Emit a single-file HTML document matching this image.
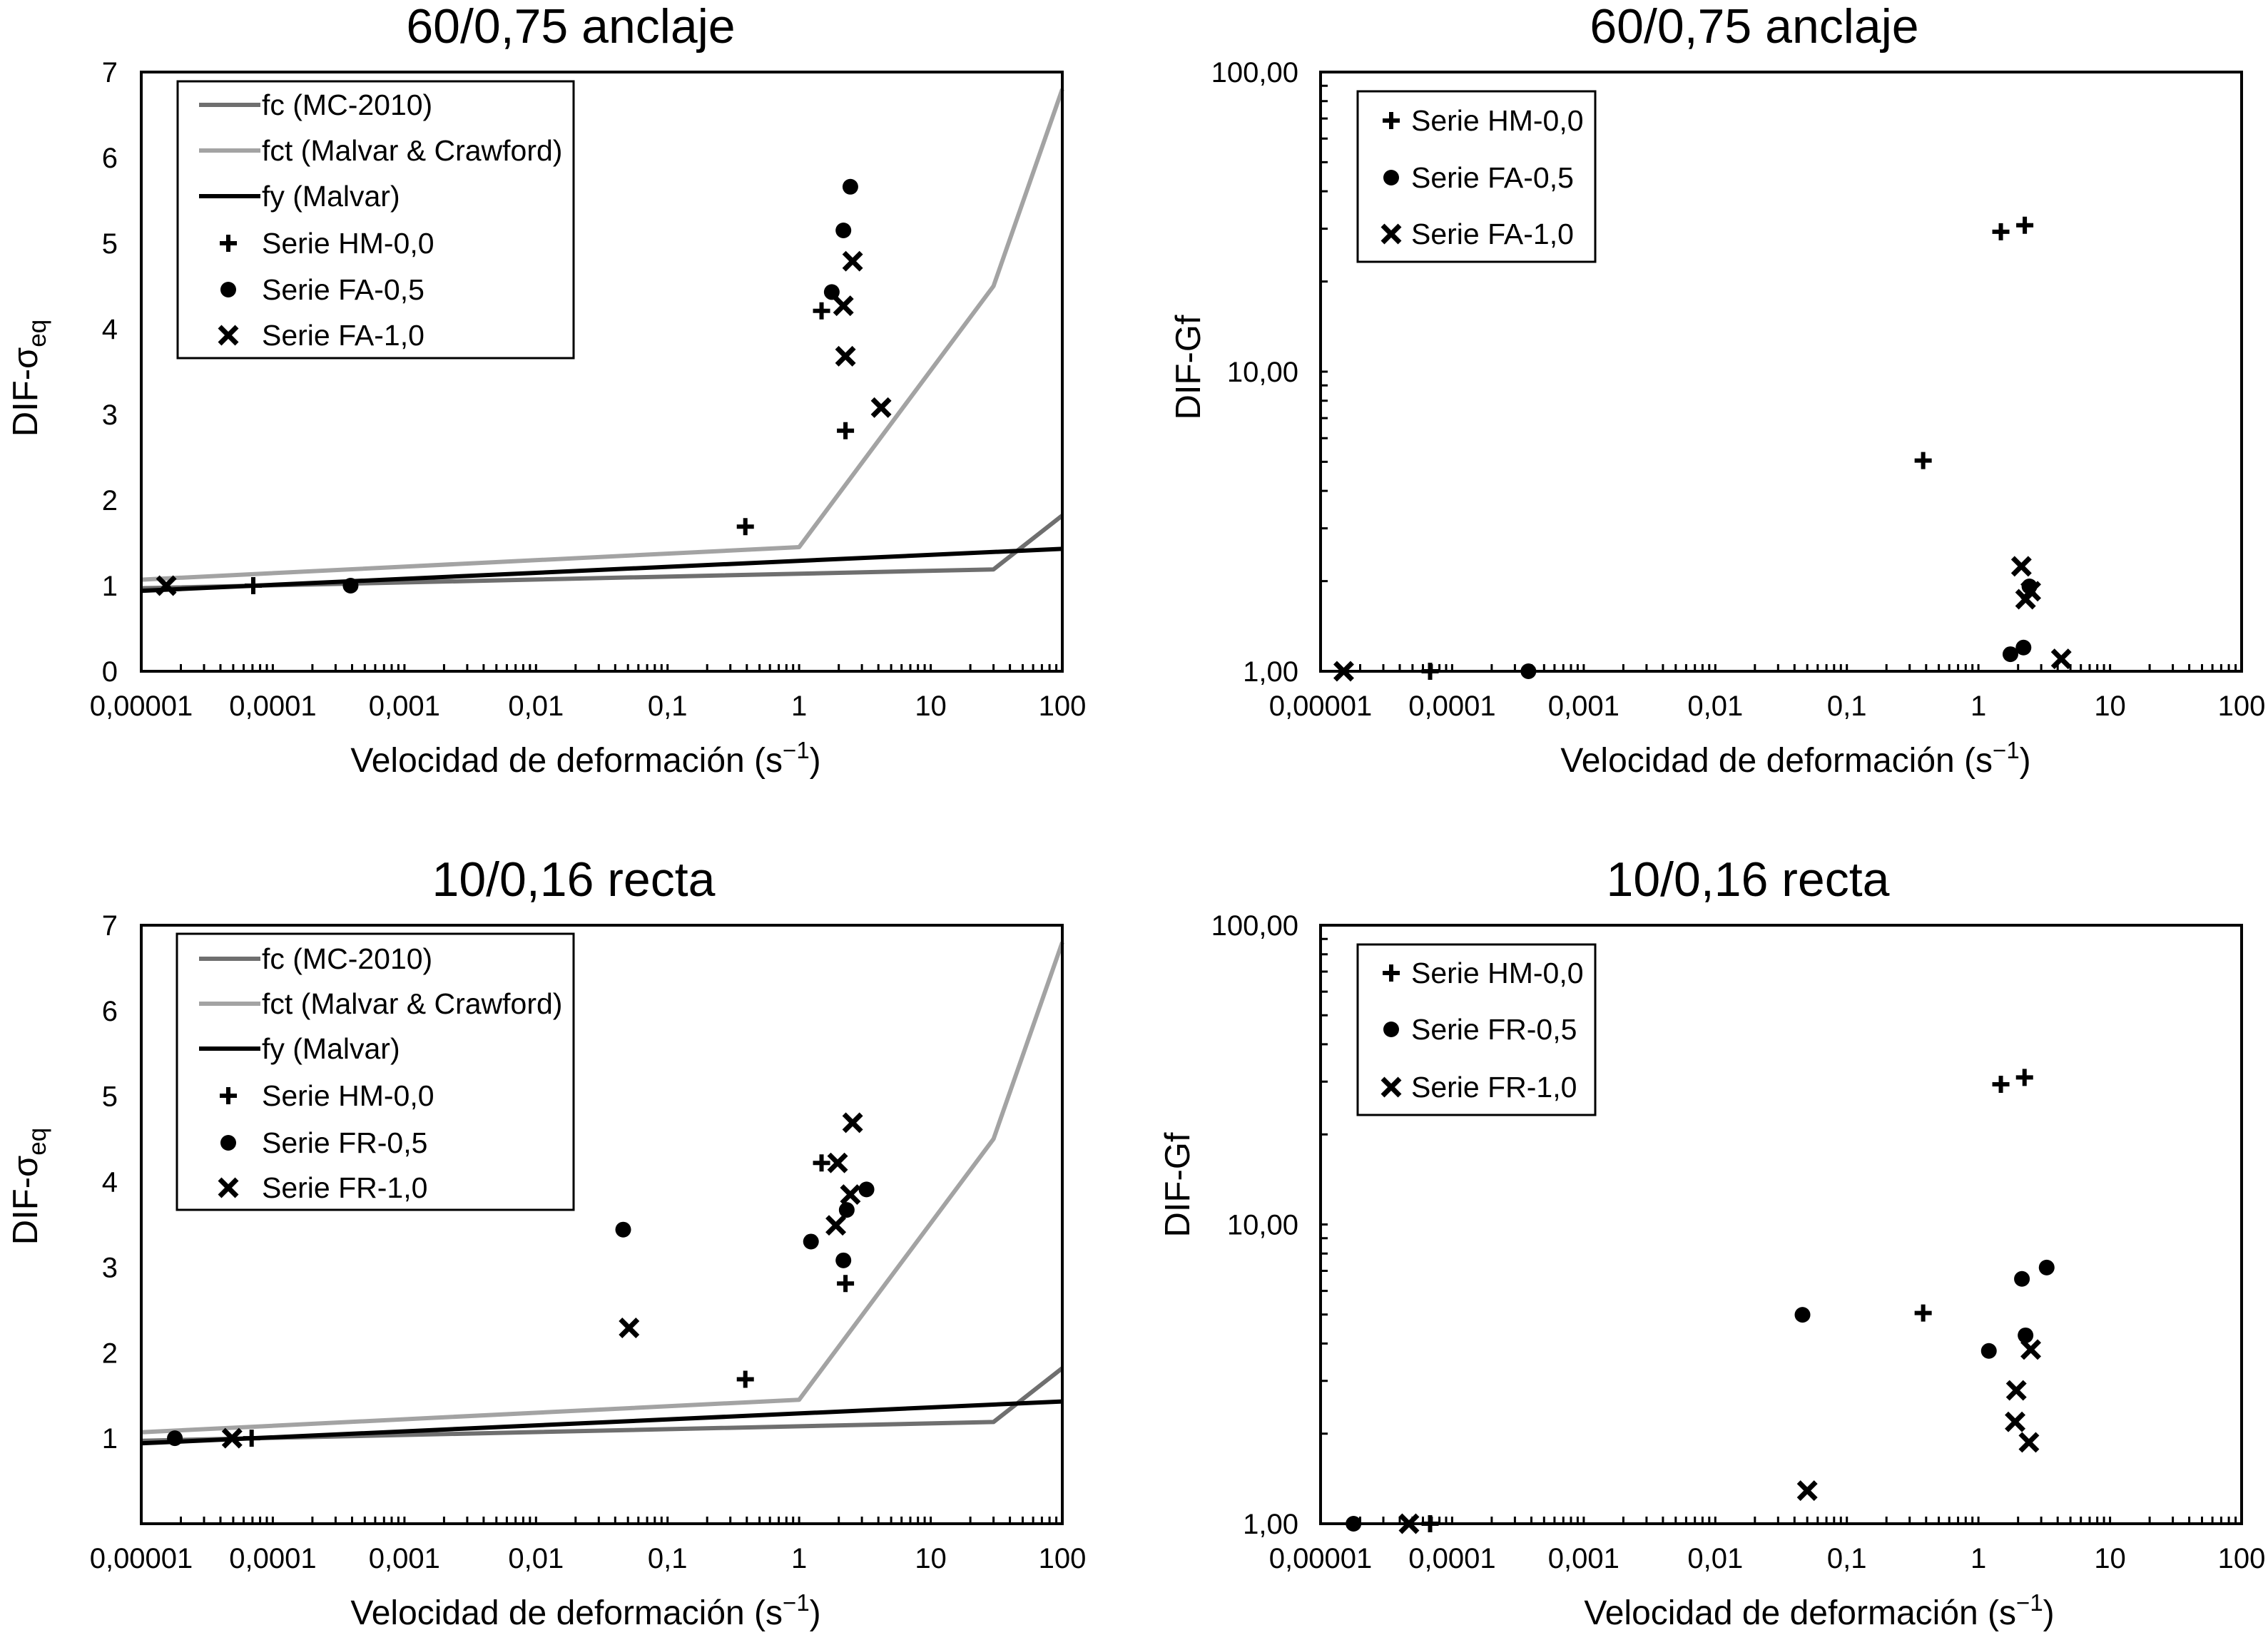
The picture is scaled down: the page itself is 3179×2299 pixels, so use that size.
<!DOCTYPE html>
<html><head><meta charset="utf-8"><style>
html,body{margin:0;padding:0;background:#fff;}
svg{display:block;font-family:"Liberation Sans",Arial,sans-serif;}
</style></head><body>
<svg id="fig" width="3179" height="2299" viewBox="0 0 3179 2299" xmlns="http://www.w3.org/2000/svg"></svg>
<script>
// ---- data ----
const tickDecades = ["0,00001","0,0001","0,001","0,01","0,1","1","10","100"];
const linTicks = ["0","1","2","3","4","5","6","7"];
const logTicks = ["1,00","10,00","100,00"];

// model curves (same on both left panels)
const fcX = [1e-5, 30, 100];
const fcY = [0.97, 1.19, 1.82];
const fctX = [1e-5, 1, 30, 100];
const fctY = [1.07, 1.45, 4.5, 6.8];
const fyX = [1e-5, 100];
const fyY = [0.94, 1.43];

// top-left: DIF-sigma, 60/0,75 anclaje
const tlHMx = [0.39, 1.48, 2.25, 7.1e-5];
const tlHMy = [1.69, 4.21, 2.81, 1.0];
const tlFA05x = [2.45, 2.17, 1.77, 3.9e-4];
const tlFA05y = [5.66, 5.15, 4.43, 1.0];
const tlFA10x = [2.55, 2.17, 2.25, 4.2, 1.55e-5];
const tlFA10y = [4.79, 4.27, 3.68, 3.08, 1.0];

// top-right: DIF-Gf, 60/0,75 anclaje
const trHMx = [1.48, 2.25, 0.38, 6.8e-5];
const trHMy = [29.3, 30.8, 5.05, 1.0];
const trFA05x = [1.75, 2.2, 2.44, 3.8e-4];
const trFA05y = [1.14, 1.2, 1.92, 1.0];
const trFA10x = [2.12, 2.28, 2.5, 4.26, 1.5e-5];
const trFA10y = [2.24, 1.74, 1.85, 1.1, 1.0];

// bottom-left: DIF-sigma, 10/0,16 recta
const blHMx = [0.39, 1.48, 2.25, 6.9e-5];
const blHMy = [1.69, 4.22, 2.81, 1.0];
const blFR05x = [0.046, 1.23, 2.17, 2.3, 3.25, 1.8e-5];
const blFR05y = [3.44, 3.30, 3.08, 3.67, 3.91, 1.0];
const blFR10x = [0.051, 2.55, 1.96, 2.45, 1.9, 4.9e-5];
const blFR10y = [2.29, 4.69, 4.22, 3.85, 3.49, 1.0];

// bottom-right: DIF-Gf, 10/0,16 recta
const brHMx = [1.48, 2.24, 0.38, 6.8e-5];
const brHMy = [29.4, 31.0, 5.06, 1.0];
const brFR05x = [0.046, 1.2, 2.14, 3.3, 2.28, 1.78e-5];
const brFR05y = [4.99, 3.78, 6.58, 7.18, 4.26, 1.0];
const brFR10x = [2.5, 1.94, 1.9, 2.42, 0.05, 4.7e-5];
const brFR10y = [3.82, 2.79, 2.19, 1.87, 1.29, 1.0];

// ---- drawing ----
const NS = "http://www.w3.org/2000/svg";
const svg = document.getElementById("fig");
function mk(tag, attrs, parent) {
  const e = document.createElementNS(NS, tag);
  for (const k in attrs) e.setAttribute(k, attrs[k]);
  (parent || svg).appendChild(e);
  return e;
}
function txt(str, attrs, parent) { const t = mk("text", attrs, parent); t.textContent = str; return t; }

function markPlus(g, cx, cy, name) {
  const p = mk("path", {d:`M${cx-12},${cy}H${cx+12}M${cx},${cy-12}V${cy+12}`, stroke:"#000", "stroke-width":6, fill:"none"}, g);
  
  
}
function markDot(g, cx, cy, name) {
  const c = mk("circle", {cx:cx, cy:cy, r:11, fill:"#000"}, g);
  
  
}
function markCross(g, cx, cy, name) {
  const p = mk("path", {d:`M${cx-12},${cy-12}L${cx+12},${cy+12}M${cx+12},${cy-12}L${cx-12},${cy+12}`, stroke:"#000", "stroke-width":7, fill:"none"}, g);
  
  
}
const markers = {plus: markPlus, dot: markDot, cross: markCross};

function panel(cfg) {
  const g = mk("g", {});
  
  
  const {x0, x1, y0, y1} = cfg;
  const X = v => x0 + (Math.log10(v) + 5) / 7 * (x1 - x0);
  const Y = cfg.log ? (v => y1 - Math.log10(v) / 2 * (y1 - y0)) : (v => y1 - v / 7 * (y1 - y0));

  const t = txt(cfg.title, {x: cfg.titleX, y: y0 - 41, "text-anchor": "middle", "font-size": 68, fill: "#000"}, g);
  
  

  let d = "";
  for (let dec = 0; dec < 7; dec++) {
    for (let m = 1; m <= 9; m++) {
      const xv = x0 + (dec + Math.log10(m)) / 7 * (x1 - x0);
      d += `M${xv.toFixed(1)},${y1}V${y1 - 10}`;
    }
  }
  if (cfg.log) {
    for (let dec = 0; dec < 2; dec++) for (let m = 1; m <= 9; m++) {
      const yv = y1 - (dec + Math.log10(m)) / 2 * (y1 - y0);
      d += `M${x0},${yv.toFixed(1)}H${x0 + 10}`;
    }
  }
  const ticks = mk("path", {d: d, stroke: "#000", "stroke-width": 3, fill: "none"}, g);
  
  

  tickDecades.forEach((lab, i) => {
    const xv = x0 + i / 7 * (x1 - x0);
    const e = txt(lab, {x: xv, y: y1 + 62, "text-anchor": "middle", "font-size": 40}, g);
    
    
  });
  if (cfg.log) {
    logTicks.forEach((lab, i) => {
      const e = txt(lab, {x: x0 - 31, y: y1 - i / 2 * (y1 - y0) + 14, "text-anchor": "end", "font-size": 40}, g);
      
      
    });
  } else {
    linTicks.forEach((lab, i) => {
      if (i === 0 && cfg.noZero) return;
      const e = txt(lab, {x: x0 - 33, y: Y(+lab) + 14, "text-anchor": "end", "font-size": 40}, g);
      
      
    });
  }

  const xt = txt("", {x: cfg.xTitleX, y: y1 + 141, "text-anchor": "middle", "font-size": 48}, g);
  
  
  xt.appendChild(document.createTextNode("Velocidad de deformación (s"));
  const sup = mk("tspan", {"font-size": 33, dy: -19}, xt); sup.textContent = "\u22121";
  const cl = mk("tspan", {dy: 19}, xt); cl.textContent = ")";

  const yt = txt("", {x: 0, y: 0, "text-anchor": "middle", "font-size": 49,
    transform: `translate(${cfg.yTitleX},${cfg.yTitleY}) rotate(-90)`}, g);
  
  
  if (cfg.log) { yt.textContent = "DIF-Gf"; }
  else {
    yt.appendChild(document.createTextNode("DIF-\u03c3"));
    const sb = mk("tspan", {"font-size": 35, dy: 12}, yt); sb.textContent = "eq";
  }

  if (cfg.curves) {
    cfg.curves.forEach(c => {
      const pts = c.xs.map((xv, i) => `${X(xv).toFixed(1)},${Y(c.ys[i]).toFixed(1)}`).join(" ");
      const pl = mk("polyline", {points: pts, fill: "none", stroke: c.color, "stroke-width": 6, "stroke-linejoin": "round"}, g);
      
      
    });
  }
  cfg.series.forEach(s => {
    s.xs.forEach((xv, i) => markers[s.marker](g, X(xv), Y(s.ys[i]), s.name + '-point'));
  });

  const fr = mk("rect", {x: x0, y: y0, width: x1 - x0, height: y1 - y0, fill: "none", stroke: "#000", "stroke-width": 4}, g);
  
  

  const L = cfg.legend;
  const lg = mk("g", {}, g);
  
  
  const lb = mk("rect", {x: L.x, y: L.y, width: L.w, height: L.h, fill: "#fff", stroke: "#000", "stroke-width": 3}, lg);
  
  
  L.items.forEach((it, i) => {
    const ry = L.rows[i];
    if (it.color) {
      const ln = mk("line", {x1: L.lineX0, x2: L.lineX1, y1: ry, y2: ry, stroke: it.color, "stroke-width": 6}, lg);
      
      
    } else {
      markers[it.marker](lg, L.markX, ry, 'legend-marker');
    }
    const e = txt(it.label, {x: L.textX, y: ry + 14, "font-size": 41}, lg);
    
    
  });
}

const curvesDef = [
  {name: "fc-line", xs: fcX, ys: fcY, color: "#6f6f6f"},
  {name: "fct-line", xs: fctX, ys: fctY, color: "#a3a3a3"},
  {name: "fy-line", xs: fyX, ys: fyY, color: "#000"}
];
function leftLegendItems(a, b) {
  return [
    {label: "fc (MC-2010)", color: "#6f6f6f"},
    {label: "fct (Malvar & Crawford)", color: "#a3a3a3"},
    {label: "fy (Malvar)", color: "#000"},
    {label: "Serie HM-0,0", marker: "plus"},
    {label: a, marker: "dot"},
    {label: b, marker: "cross"}
  ];
}

panel({name: "panel-top-left", title: "60/0,75 anclaje", titleX: 800, x0: 198, x1: 1489, y0: 101, y1: 941, log: false,
  xTitleX: 821, yTitleX: 52, yTitleY: 530, curves: curvesDef,
  series: [{name: "serie-hm-0-0", xs: tlHMx, ys: tlHMy, marker: "plus"},
           {name: "serie-fa-0-5", xs: tlFA05x, ys: tlFA05y, marker: "dot"},
           {name: "serie-fa-1-0", xs: tlFA10x, ys: tlFA10y, marker: "cross"}],
  legend: {x: 249, y: 114, w: 555, h: 388, rows: [147, 211, 275, 341, 406, 470], lineX0: 279, lineX1: 365, markX: 320, textX: 367,
    items: leftLegendItems("Serie FA-0,5", "Serie FA-1,0")}});

panel({name: "panel-top-right", title: "60/0,75 anclaje", titleX: 2459, x0: 1851, x1: 3142, y0: 101, y1: 941, log: true,
  xTitleX: 2517, yTitleX: 1682, yTitleY: 515,
  series: [{name: "serie-hm-0-0", xs: trHMx, ys: trHMy, marker: "plus"},
           {name: "serie-fa-0-5", xs: trFA05x, ys: trFA05y, marker: "dot"},
           {name: "serie-fa-1-0", xs: trFA10x, ys: trFA10y, marker: "cross"}],
  legend: {x: 1903, y: 128, w: 333, h: 239, rows: [169, 249, 328], markX: 1950, textX: 1978,
    items: [{label: "Serie HM-0,0", marker: "plus"}, {label: "Serie FA-0,5", marker: "dot"}, {label: "Serie FA-1,0", marker: "cross"}]}});

panel({name: "panel-bottom-left", title: "10/0,16 recta", titleX: 804, x0: 198, x1: 1489, y0: 1297, y1: 2136, log: false, noZero: true,
  xTitleX: 821, yTitleX: 52, yTitleY: 1663, curves: curvesDef,
  series: [{name: "serie-hm-0-0", xs: blHMx, ys: blHMy, marker: "plus"},
           {name: "serie-fr-0-5", xs: blFR05x, ys: blFR05y, marker: "dot"},
           {name: "serie-fr-1-0", xs: blFR10x, ys: blFR10y, marker: "cross"}],
  legend: {x: 248, y: 1309, w: 556, h: 387, rows: [1344, 1407, 1470, 1536, 1602, 1665], lineX0: 279, lineX1: 365, markX: 320, textX: 367,
    items: leftLegendItems("Serie FR-0,5", "Serie FR-1,0")}});

panel({name: "panel-bottom-right", title: "10/0,16 recta", titleX: 2450, x0: 1851, x1: 3142, y0: 1297, y1: 2136, log: true,
  xTitleX: 2550, yTitleX: 1667, yTitleY: 1661,
  series: [{name: "serie-hm-0-0", xs: brHMx, ys: brHMy, marker: "plus"},
           {name: "serie-fr-0-5", xs: brFR05x, ys: brFR05y, marker: "dot"},
           {name: "serie-fr-1-0", xs: brFR10x, ys: brFR10y, marker: "cross"}],
  legend: {x: 1903, y: 1324, w: 333, h: 239, rows: [1364, 1443, 1524], markX: 1950, textX: 1978,
    items: [{label: "Serie HM-0,0", marker: "plus"}, {label: "Serie FR-0,5", marker: "dot"}, {label: "Serie FR-1,0", marker: "cross"}]}});
</script>
</body></html>
